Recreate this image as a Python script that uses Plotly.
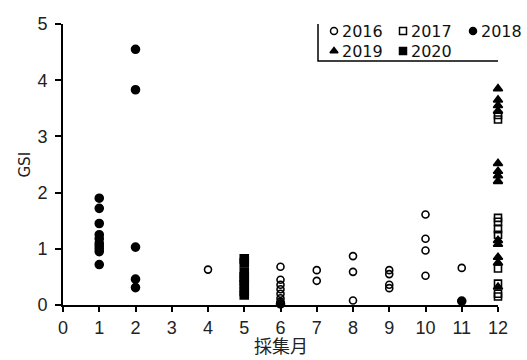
import plotly.graph_objects as go

# GSI by sampling month, one series per year
months_2016 = [4, 6, 6, 6, 6, 6, 6, 6, 6, 7, 7, 8, 8, 8, 9, 9, 9, 9, 10, 10, 10, 10, 11]
gsi_2016 = [0.63, 0.68, 0.45, 0.36, 0.28, 0.20, 0.12, 0.06, 0.02, 0.62, 0.43, 0.87, 0.59, 0.08,
            0.62, 0.55, 0.36, 0.30, 1.61, 1.18, 0.97, 0.52, 0.66]

months_2017 = [12, 12, 12, 12, 12, 12, 12, 12, 12, 12]
gsi_2017 = [3.38, 3.30, 1.55, 1.48, 1.35, 1.25, 0.65, 0.38, 0.20, 0.15]

months_2018 = [1, 1, 1, 1, 1, 1, 1, 1, 1, 1, 2, 2, 2, 2, 2, 6, 11]
gsi_2018 = [1.90, 1.72, 1.45, 1.25, 1.18, 1.10, 1.05, 1.00, 0.95, 0.72,
            4.55, 3.83, 1.03, 0.46, 0.31, 0.02, 0.07]

months_2019 = [12] * 13
gsi_2019 = [3.85, 3.65, 3.55, 3.45, 2.52, 2.38, 2.30, 2.20, 1.15, 1.08, 0.85, 0.75, 0.32]

months_2020 = [5, 5, 5, 5, 5, 5, 5, 5]
gsi_2020 = [0.82, 0.75, 0.58, 0.50, 0.42, 0.36, 0.24, 0.18]

x_ticks = list(range(0, 13))
y_ticks = [0, 1, 2, 3, 4, 5]

series = [
    ("2016", months_2016, gsi_2016, "circle-open", 7),
    ("2017", months_2017, gsi_2017, "square-open", 7),
    ("2018", months_2018, gsi_2018, "circle", 8),
    ("2019", months_2019, gsi_2019, "triangle-up", 8),
    ("2020", months_2020, gsi_2020, "square", 8),
]

W, H = 527, 360
ML, MR, MT, MB = 63, 29, 24, 55
PW = W - ML - MR
PH = H - MT - MB


def paper_x(px):
    return (px - ML) / PW


def paper_y(py):
    return (H - MB - py) / PH


fig = go.Figure()
for name, xs, ys, symbol, size in series:
    fig.add_trace(go.Scatter(
        x=xs, y=ys, mode="markers", name=name,
        marker=dict(symbol=symbol, size=size, color="black",
                    line=dict(color="black", width=1.6)),
        cliponaxis=False,
    ))

# Key box laid out in pixel units on a hidden overlay axis pair (3 entries per row)
key_left, key_right, key_top, key_bottom = 318, 530, 21, 61
col_x = [334, 403, 473]
row_y = [31, 51]
for i, (name, _, _, symbol, _) in enumerate(series):
    kx = col_x[i % 3]
    ky = row_y[i // 3]
    fig.add_trace(go.Scatter(
        x=[kx], y=[ky], mode="markers", xaxis="x2", yaxis="y2",
        marker=dict(symbol=symbol, size=7, color="black",
                    line=dict(color="black", width=1.5)),
        cliponaxis=False, hoverinfo="skip", showlegend=False,
    ))
    fig.add_annotation(
        x=kx + 6, y=ky, xref="x2", yref="y2", text=name, showarrow=False,
        xanchor="left", yanchor="middle",
        font=dict(family="DejaVu Sans, sans-serif", size=16, color="#111"),
    )
fig.add_shape(type="rect", xref="x2", yref="y2",
              x0=key_left, x1=key_right, y0=key_bottom, y1=key_top,
              line=dict(color="black", width=1.5), layer="below")

# Axis titles in paper coordinates (outside the plot area)
fig.add_annotation(
    x=0.5, y=paper_y(360), xref="paper", yref="paper", text="採集月", showarrow=False,
    xanchor="center", yanchor="bottom",
    font=dict(family="Noto Sans CJK JP", size=18, color="#222"),
)
fig.add_annotation(
    x=paper_x(24), y=0.5, xref="paper", yref="paper", text="GSI", showarrow=False,
    xanchor="center", yanchor="middle", textangle=-90,
    font=dict(family="DejaVu Sans, sans-serif", size=15, color="#222"),
)

tick_font = dict(family="Liberation Sans, Arial, sans-serif", size=18, color="#222")

fig.update_layout(
    width=W, height=H,
    margin=dict(l=ML, r=MR, t=MT, b=MB, autoexpand=False),
    paper_bgcolor="white", plot_bgcolor="white",
    showlegend=False,
    xaxis=dict(
        range=[0, 12], tickvals=x_ticks, ticktext=[str(v) for v in x_ticks],
        showgrid=False, zeroline=False, showline=True, linecolor="black", linewidth=2,
        ticks="outside", ticklen=5, tickwidth=2, tickcolor="black",
        tickfont=tick_font, automargin=False,
    ),
    yaxis=dict(
        range=[0, 5], tickvals=y_ticks, ticktext=[str(v) for v in y_ticks],
        showgrid=False, zeroline=False, showline=True, linecolor="black", linewidth=2,
        ticks="outside", ticklen=6, tickwidth=2, tickcolor="black",
        tickfont=tick_font, ticklabelstandoff=4, automargin=False,
    ),
    xaxis2=dict(
        domain=[0, 1], range=[ML, W - MR], anchor="y2", overlaying="x",
        visible=False, fixedrange=True,
    ),
    yaxis2=dict(
        domain=[0, 1], range=[H - MB, MT], anchor="x2", overlaying="y",
        visible=False, fixedrange=True,
    ),
)

fig.write_html("out.html")
